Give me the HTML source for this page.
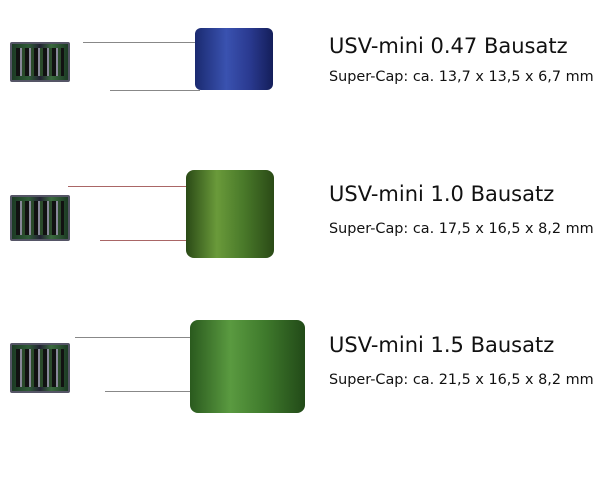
<!DOCTYPE html>
<html><head><meta charset="utf-8"><style>
body{margin:0;width:600px;height:480px;background:#fff;position:relative;overflow:hidden;font-family:"DejaVu Sans","Liberation Sans",sans-serif;color:#111}
.a{position:absolute}
.pcb{position:absolute;background:linear-gradient(90deg,#1c3a24,#2e5a36 30%,#223 50%,#3a6a3e 70%,#1c3a24);border:2px solid #556;border-radius:2px}
.pcb:before{content:"";position:absolute;left:4px;top:4px;right:4px;bottom:4px;background:repeating-linear-gradient(90deg,#111 0 4px,#889 4px 6px,#2a4a2a 6px 9px)}
.w{position:absolute;height:1px;background:#888}
.t{position:absolute;font-size:21px;white-space:nowrap}
.s{position:absolute;font-size:14.4px;white-space:nowrap}
</style></head><body>
<div class="pcb" style="left:10px;top:42px;width:56px;height:36px"></div>
<div class="w" style="left:83px;top:42px;width:120px"></div>
<div class="w" style="left:110px;top:90px;width:90px"></div>
<div class="a" style="left:195px;top:28px;width:78px;height:62px;background:linear-gradient(90deg,#1a2a70,#3a52b0 40%,#2a3a90 70%,#141e5a);border-radius:6px"></div>
<div class="t" style="left:329px;top:34px">USV-mini 0.47 Bausatz</div>
<div class="s" style="left:329px;top:69px">Super-Cap: ca. 13,7 x 13,5 x 6,7 mm</div>

<div class="pcb" style="left:10px;top:195px;width:56px;height:42px"></div>
<div class="w" style="left:68px;top:186px;width:125px;background:#a66"></div>
<div class="w" style="left:100px;top:240px;width:90px;background:#a66"></div>
<div class="a" style="left:186px;top:170px;width:88px;height:88px;background:linear-gradient(90deg,#2a4a16,#6a9a3a 35%,#4a7a2a 65%,#2a4a16);border-radius:8px"></div>
<div class="t" style="left:329px;top:182px">USV-mini 1.0 Bausatz</div>
<div class="s" style="left:329px;top:221px">Super-Cap: ca. 17,5 x 16,5 x 8,2 mm</div>

<div class="pcb" style="left:10px;top:343px;width:56px;height:46px"></div>
<div class="w" style="left:75px;top:337px;width:118px"></div>
<div class="w" style="left:105px;top:391px;width:90px"></div>
<div class="a" style="left:190px;top:320px;width:115px;height:93px;background:linear-gradient(90deg,#2a5a1e,#5a9a40 35%,#3f7a2c 65%,#224a18);border-radius:8px"></div>
<div class="t" style="left:329px;top:333px">USV-mini 1.5 Bausatz</div>
<div class="s" style="left:329px;top:372px">Super-Cap: ca. 21,5 x 16,5 x 8,2 mm</div>
</body></html>
